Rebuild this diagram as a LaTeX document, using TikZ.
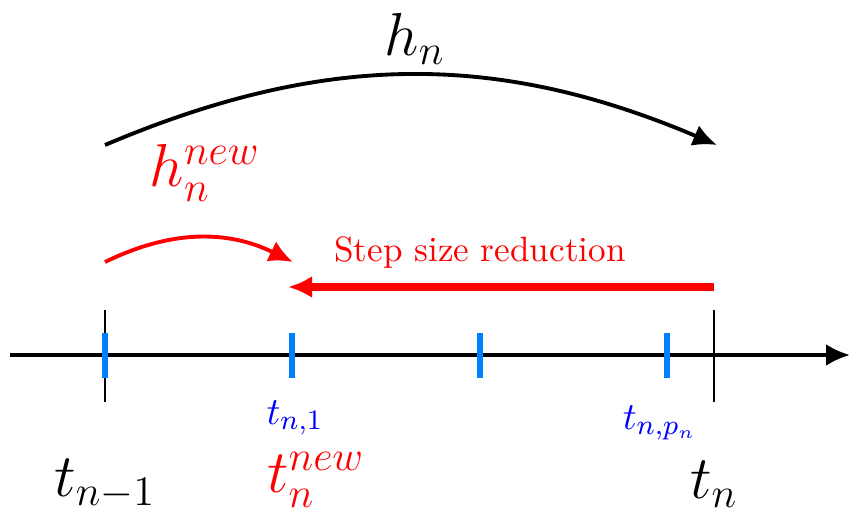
\documentclass[tikz,border=0pt]{standalone}
\usetikzlibrary{arrows.meta}
\definecolor{tickblue}{RGB}{0,128,255}
\begin{document}
\begin{tikzpicture}[
            big/.style={font=\fontsize{17}{20}\selectfont},
            sublabel/.style={font=\fontsize{11}{13}\selectfont, text=blue},
            bigtick/.style={line width=0.8pt},
            subtick/.style={line width=1.5pt, tickblue},
            tip/.style={-{Latex[length=2.4mm,width=2.2mm]}}
            ]
            \useasboundingbox (0,0) rectangle (8.5,5.11);
            % points on the time axis
            \coordinate (tprev) at (1.05,1.56);
            \coordinate (tcur) at (7.14,1.56);
            \coordinate (s1) at (2.92,1.56);
            \coordinate (s2) at (4.80,1.56);
            \coordinate (s3) at (6.67,1.56);
            \coordinate (axl) at (0.10,1.56);
            \coordinate (axr) at (8.50,1.56);

            \draw[line width=1.1pt, tip] (axl) -- (axr);
            \draw[bigtick] (1.05,1.09) -- (1.05,2.01);
            \draw[bigtick] (7.14,1.09) -- (7.14,2.01);
            \foreach \x in {1.05,2.92,4.80,6.67}
                \draw[subtick] (\x,1.33) -- (\x,1.78);

            \node[big] (lprev) at (1.05,0.27) {$t_{n-1}$};
            \node[big] (lcur) at (7.14,0.27) {$t_n$};
            \node[big, text=red] (lnew) at (3.16,0.31) {$t_n^{new}$};
            \node[sublabel] (l1) at (2.95,0.93) {$t_{n,1}$};
            \node[sublabel] (lp) at (6.60,0.88) {$t_{n,p_n}$};

            % steps
            \coordinate (ha) at (1.05,3.66);
            \coordinate (hb) at (7.17,3.66);
            \draw[line width=1.1pt, tip] (ha) to[bend left=23] (hb);
            \node[big] (hn) at (4.15,4.72) {$h_n$};

            \coordinate (ra) at (1.05,2.49);
            \coordinate (rb) at (2.93,2.49);
            \draw[red, line width=1.1pt, tip] (ra) to[bend left=26] (rb);
            \node[big, text=red] (hnew) at (2.05,3.38) {$h_n^{new}$};

            \coordinate (qa) at (7.14,2.24);
            \coordinate (qb) at (2.88,2.24);
            \draw[red, line width=2pt, tip] (qa) -- (qb);
            \node[text=red] (red) at (4.80,2.58) {Step size reduction};
\end{tikzpicture}
\end{document}
